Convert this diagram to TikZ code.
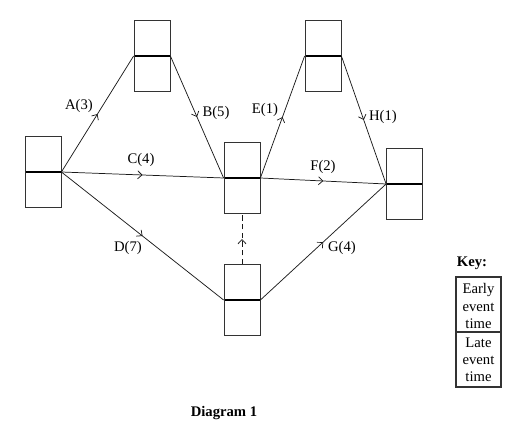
\documentclass[tikz,border=0pt]{standalone}
\usepackage{fontspec}
\setmainfont{Liberation Serif}
\usetikzlibrary{arrows.meta,decorations.markings}
\begin{document}
\begin{tikzpicture}[x=0.75pt,y=-0.75pt,
  evbox/.style={draw=black!80, line width=0.6pt, minimum width=27pt, minimum height=53.25pt, inner sep=0pt,
    path picture={\draw[black, line width=1.1pt] (path picture bounding box.west) -- (path picture bounding box.east);}},
  act/.style={draw=black!90, line width=0.55pt, postaction={decorate},
    decoration={markings, mark=at position 0.5 with {\arrow{Straight Barb[length=3.2pt,width=6pt,line width=0.55pt]}}}},
  dummy/.style={act, dashed, dash pattern=on 4pt off 2.5pt},
  lab/.style={font=\fontsize{11}{13}\selectfont, inner sep=0pt},
  keytxt/.style={font=\fontsize{11}{12.8}\selectfont, align=center, inner sep=0pt},
]
\useasboundingbox (0,0) rectangle (511,427);
% event boxes
\node[evbox] (n1) at (43,172) {};
\node[evbox] (n2) at (152,56) {};
\node[evbox] (n3) at (242,178) {};
\node[evbox] (n4) at (323,56) {};
\node[evbox] (n5) at (404.5,184) {};
\node[evbox] (n6) at (242,300) {};
% activities
\draw[act] (n1.east) -- (n2.west);
\draw[act] (n2.east) -- (n3.west);
\draw[act] (n1.east) -- (n3.west);
\draw[act] (n1.east) -- (n6.west);
\draw[act] (n3.east) -- (n4.west);
\draw[act] (n4.east) -- (n5.west);
\draw[act] (n3.east) -- (n5.west);
\draw[act] (n6.east) -- (n5.west);
\draw[dummy] (n6.north) -- (n3.south);
% labels
\node[lab] (lA) at (79,106) {A(3)};
\node[lab] (lB) at (216,113) {B(5)};
\node[lab] (lC) at (141,160) {C(4)};
\node[lab] (lD) at (128,248) {D(7)};
\node[lab] (lE) at (265,110) {E(1)};
\node[lab] (lF) at (323,167) {F(2)};
\node[lab] (lG) at (342,248) {G(4)};
\node[lab] (lH) at (383,117) {H(1)};
% key
\node[lab, font=\fontsize{11}{13}\selectfont\bfseries] (keyt) at (472,263) {Key:};
\node[draw=black!80, line width=0.9pt, minimum width=33.75pt, minimum height=82.5pt, inner sep=0pt] (key) at (478.5,332) {};
\draw[black!80, line width=0.9pt] (key.west) -- (key.east);
\node[keytxt] (keyE) at (478.5,306) {Early\\event\\time};
\node[keytxt] (keyL) at (478.5,360) {Late\\event\\time};
% caption
\node[lab, font=\fontsize{11}{13}\selectfont\bfseries] (cap) at (224,413) {Diagram 1};
\end{tikzpicture}
\end{document}
